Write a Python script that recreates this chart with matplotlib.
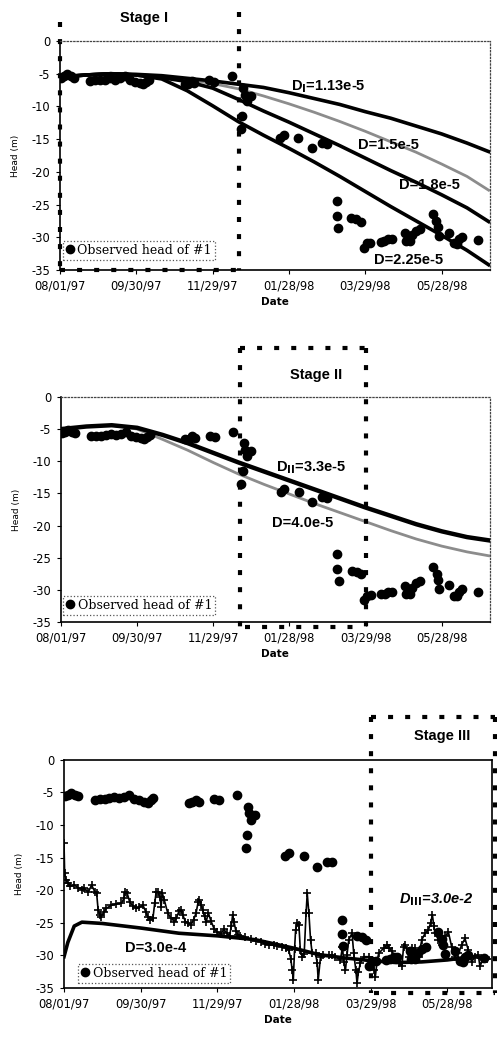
import numpy as np
import matplotlib
matplotlib.use("Agg")
import matplotlib.pyplot as plt
from matplotlib.lines import Line2D

# ---------------- data ----------------
# days counted from 08/01/97
TICK_DAYS = [0, 60, 120, 180, 240, 300]
TICK_LABELS = ["08/01/97", "09/30/97", "11/29/97", "01/28/98", "03/29/98", "05/28/98"]
Y_TICKS = [0, -5, -10, -15, -20, -25, -30, -35]

# observed head of well #1
obs_day = [0.5, 3.1, 5.7, 8.3, 10.9, 23.9, 27.8, 31.7, 35.6, 39.5, 43.4, 47.3, 51.2, 55.1,
           59.0, 62.8, 65.4, 68.0, 69.9, 97.9, 100.5, 103.6, 105.7, 117.4, 121.3, 135.6,
           142.1, 143.4, 144.1, 145.2, 146.7, 149.8, 173.2, 175.8, 187.5, 197.9, 205.7,
           209.6, 217.4, 217.4, 218.7, 229.1, 233.0, 236.8, 239.0, 241.0, 244.0, 252.0,
           255.0, 258.0, 261.0, 271.0, 272.0, 275.0, 277.0, 280.0, 283.0, 293.0, 296.0,
           297.0, 298.0, 306.0, 310.0, 312.0, 314.0, 316.0, 329.0]
obs_head = [-5.6, -5.4, -5.1, -5.4, -5.6, -6.1, -6.0, -6.0, -5.9, -5.7, -5.9, -5.7, -5.4, -6.0,
            -6.2, -6.4, -6.6, -6.2, -5.9, -6.6, -6.5, -6.1, -6.4, -6.0, -6.2, -5.4,
            -13.5, -11.5, -7.2, -8.2, -9.2, -8.4, -14.8, -14.3, -14.8, -16.4, -15.6,
            -15.7, -24.5, -26.7, -28.6, -27.1, -27.2, -27.6, -31.6, -30.9, -30.8, -30.7,
            -30.6, -30.3, -30.3, -29.4, -30.6, -30.6, -29.7, -29.0, -28.7, -26.4, -27.5,
            -28.4, -29.8, -29.3, -30.9, -31.0, -30.3, -29.9, -30.4]

# simulated heads, stages I and II
sim_day = [0, 20, 40, 60, 80, 100, 120, 140, 160, 180, 200, 220, 240, 260, 280, 300, 320, 337]
head_d113 = [-5.5, -5.2, -5.0, -5.1, -5.3, -5.7, -6.1, -6.6, -7.1, -7.9, -8.8, -9.7, -10.8,
             -11.8, -13.0, -14.2, -15.6, -16.9]
head_d15 = [-5.5, -5.2, -5.0, -5.1, -5.4, -5.9, -6.5, -7.3, -8.4, -9.6, -10.9, -12.3, -13.8,
            -15.4, -17.0, -18.8, -20.7, -22.8]
head_d18 = [-5.5, -5.2, -5.0, -5.2, -5.6, -6.2, -7.2, -8.9, -10.7, -12.4, -14.2, -16.0, -17.9,
            -19.8, -21.6, -23.5, -25.5, -27.6]
head_d225 = [-5.5, -5.2, -5.0, -5.2, -5.8, -7.6, -9.9, -12.3, -14.4, -16.4, -18.5, -20.7,
             -23.0, -25.3, -27.5, -29.7, -32.0, -34.2]
head_d33 = [-5.0, -4.6, -4.4, -4.8, -5.9, -7.2, -8.7, -10.2, -11.6, -13.0, -14.4, -15.8,
            -17.2, -18.5, -19.8, -20.9, -21.8, -22.3]
head_d40 = [-5.0, -4.6, -4.4, -5.0, -6.6, -8.3, -10.2, -12.0, -13.6, -15.1, -16.6, -18.0,
            -19.4, -20.8, -22.1, -23.2, -24.1, -24.7]

# stage III
smooth_day = [0, 3, 8, 14, 30, 60, 90, 120, 150, 180, 200, 220, 240, 260, 280, 300, 320, 332]
head_d3e4 = [-30.2, -28.0, -25.5, -24.9, -25.1, -25.8, -26.6, -27.0, -27.6, -28.9, -29.9,
             -30.4, -30.8, -31.1, -31.0, -30.7, -30.2, -30.4]
cross_day = [0.0, 0.5, 1.5, 3, 5, 8, 11, 14, 16, 19, 21.6, 24, 25.5, 26.7, 28, 29, 31, 33, 37,
             41, 45, 47, 48, 49.5, 51.4, 54, 56.6, 59, 61.8, 64, 65.7, 67.5, 69.6, 71, 72.2,
             73.5, 75, 76, 77, 78.5, 81.2, 83.5, 86.4, 88, 90, 91.6, 93, 95, 97, 99.5, 101.5,
             103.4, 105, 106, 107.5, 108.5, 110, 111.2, 113, 115, 117.7, 120, 123, 125, 127.5,
             129.6, 131, 132, 133, 134.5, 136, 138, 142, 146, 150, 154, 157.6, 160.6, 164,
             167, 171, 174, 176, 177.5, 178.7, 179.5, 180.5, 181.3, 182.5, 183.9, 185, 186.5,
             188, 189.5, 190.4, 191.7, 193, 194.3, 196.9, 198.2, 199, 200.8, 203, 207.3, 210,
             212.5, 216.4, 218, 219, 220.3, 221.5, 222.9, 225.5, 226.8, 228.5, 229.4, 230.5,
             232, 234.6, 238.5, 241.1, 243, 243.7, 245, 246.3, 250.2, 252.8, 254.5, 256.7,
             260.6, 262.5, 264.5, 265.8, 267.2, 269.8, 272.4, 275, 277.6, 280.1, 282.7, 285.3,
             287, 288.4, 289.5, 290.5, 293.1, 295.7, 298.3, 300.9, 303.5, 306.1, 308.7, 311.3,
             313.9, 316.5, 319.1, 321.7, 324.3, 325.6, 328.2, 330.8]
head_d3e2 = [-12.8, -17.4, -18.4, -18.9, -19.4, -19.2, -19.6, -19.9, -19.7, -20.3, -19.2,
             -20.2, -20.4, -23.0, -23.8, -24.1, -23.4, -22.8, -22.3, -22.1, -22.0, -21.2,
             -20.3, -20.5, -21.8, -22.4, -22.8, -22.6, -22.3, -23.3, -24.1, -24.6, -24.3,
             -22.0, -20.2, -20.3, -21.0, -22.5, -20.5, -21.5, -23.5, -24.2, -24.8, -24.3,
             -23.2, -23.0, -23.8, -24.8, -25.0, -25.3, -24.5, -23.5, -21.8, -21.5, -22.3,
             -23.0, -24.0, -24.9, -23.5, -24.7, -26.0, -26.4, -26.7, -26.0, -26.6, -27.0,
             -25.5, -23.8, -24.8, -26.2, -26.8, -27.0, -27.2, -27.5, -27.8, -27.9, -28.3,
             -28.4, -28.4, -28.5, -28.7, -28.9, -29.2, -30.5, -32.3, -33.8, -29.0, -26.1,
             -25.0, -25.3, -29.2, -30.2, -29.8, -23.5, -20.5, -23.5, -27.6, -29.7, -29.7,
             -31.2, -33.8, -30.2, -29.9, -29.9, -30.0, -30.2, -30.7, -28.7, -31.0, -32.3,
             -30.0, -27.6, -26.6, -29.7, -32.3, -34.3, -32.5, -31.2, -30.2, -30.2, -30.7,
             -32.3, -33.3, -31.0, -29.7, -28.9, -28.4, -28.8, -29.4, -30.5, -31.2, -31.7,
             -28.7, -28.4, -30.2, -28.9, -28.9, -30.2, -27.6, -26.6, -26.1, -25.0, -23.8,
             -25.5, -26.6, -27.6, -28.4, -27.1, -26.4, -28.7, -30.2, -29.7, -28.4, -27.4,
             -29.2, -31.0, -30.2, -29.9, -31.7, -30.5, -30.5]

STAGE_BOUNDS = [0, 141, 240]

# ---------------- figure ----------------
plt.rcParams["font.family"] = ["DejaVu Sans"]
fig = plt.figure(figsize=(4.97, 10.38), dpi=100)

ax1 = fig.add_axes([0.1207, 0.7399, 0.865, 0.2206])
ax2 = fig.add_axes([0.1227, 0.4008, 0.863, 0.2168])
ax3 = fig.add_axes([0.1288, 0.0482, 0.861, 0.2197])

LBL = dict(fontsize=10.5, fontweight="bold", family="Liberation Sans")
BOX = dict(color="black", lw=3, linestyle=(0, (1.2, 2.9)), clip_on=False)


def style_axes(ax, xmax, dotted_frame=True):
    ax.set_xlim(0, xmax)
    ax.set_ylim(-35, 0)
    ax.set_xticks(TICK_DAYS)
    ax.set_xticklabels(TICK_LABELS)
    ax.set_yticks(Y_TICKS)
    ax.set_yticklabels([str(v) for v in Y_TICKS])
    ax.tick_params(labelsize=8.3, length=3, width=0.8, direction="out", pad=4)
    ax.set_xlabel("Date", fontsize=7.5, fontweight="bold", labelpad=3)
    ax.set_ylabel("Head (m)", fontsize=6.5, labelpad=8)
    for s in ("left", "bottom"):
        ax.spines[s].set_linewidth(1.2)
    for s in ("top", "right"):
        if dotted_frame:
            ax.spines[s].set_linestyle(":")
            ax.spines[s].set_linewidth(0.9)
            ax.spines[s].set_color("#444444")
        else:
            ax.spines[s].set_linewidth(1.2)


def add_obs(ax, anchor):
    h, = ax.plot(obs_day, obs_head, "o", color="black", ms=6, zorder=5,
                 label="Observed head of #1")
    leg = ax.legend(handles=[h], loc="lower left", bbox_to_anchor=anchor,
                    frameon=True, fancybox=False, edgecolor="#555555", framealpha=1,
                    borderpad=0.25, handlelength=0.6, handletextpad=0.3,
                    borderaxespad=0, prop=dict(family="DejaVu Serif", size=9))
    leg.get_frame().set_linestyle(":")
    leg.get_frame().set_linewidth(0.9)


# ---- Stage I ----
ax1.plot(sim_day, head_d113, color="black", lw=2.6, zorder=3)
ax1.plot(sim_day, head_d15, color="#8c8c8c", lw=2.0, zorder=2)
ax1.plot(sim_day, head_d18, color="black", lw=2.6, zorder=3)
ax1.plot(sim_day, head_d225, color="black", lw=2.6, zorder=3)
add_obs(ax1, (0.007, 0.044))
style_axes(ax1, 338)
ax1.text(181.5, -7.0, r"D$_\mathbf{I}$=1.13e-5", va="center", ha="left", **LBL)
ax1.text(234.4, -15.9, "D=1.5e-5", va="center", ha="left", **LBL)
ax1.text(266.8, -22.0, "D=1.8e-5", va="center", ha="left", **LBL)
ax1.text(247.0, -33.5, "D=2.25e-5", va="center", ha="left", **LBL)
t1 = ax1.get_xaxis_transform()
ax1.text(66, 1.10, "Stage I", transform=t1, ha="center", va="center", **LBL)
ax1.add_line(Line2D([STAGE_BOUNDS[0]] * 2, [1.083, 0], transform=t1, **BOX))
ax1.add_line(Line2D([STAGE_BOUNDS[1]] * 2, [1.127, 0], transform=t1, **BOX))
ax1.add_line(Line2D([STAGE_BOUNDS[0], STAGE_BOUNDS[1]], [0, 0], transform=t1, **BOX))

# ---- Stage II ----
ax2.plot(sim_day, head_d33, color="black", lw=3.2, zorder=3)
ax2.plot(sim_day, head_d40, color="#8c8c8c", lw=2.0, zorder=2)
add_obs(ax2, (0.005, 0.031))
style_axes(ax2, 338)
ax2.text(169.8, -11.0, r"D$_\mathbf{II}$=3.3e-5", va="center", ha="left", **LBL)
ax2.text(165.9, -19.6, "D=4.0e-5", va="center", ha="left", **LBL)
t2 = ax2.get_xaxis_transform()
ax2.text(201, 1.098, "Stage II", transform=t2, ha="center", va="center", **LBL)
ax2.add_line(Line2D([STAGE_BOUNDS[1]] * 2, [1.218, -0.022], transform=t2, **BOX))
ax2.add_line(Line2D([STAGE_BOUNDS[2]] * 2, [1.218, -0.022], transform=t2, **BOX))
ax2.add_line(Line2D([STAGE_BOUNDS[1], STAGE_BOUNDS[2]], [1.218, 1.218], transform=t2, **BOX))
ax2.add_line(Line2D([STAGE_BOUNDS[1] + 4, STAGE_BOUNDS[2] - 4], [-0.022, -0.022],
                    transform=t2, **BOX))

# ---- Stage III ----
ax3.plot(cross_day, head_d3e2, color="black", lw=1.2, marker="+", ms=6, mew=1.2, zorder=3)
ax3.plot(smooth_day, head_d3e4, color="black", lw=2.6, zorder=4)
add_obs(ax3, (0.033, 0.022))
style_axes(ax3, 335, dotted_frame=False)
ax3.text(47.6, -28.9, "D=3.0e-4", va="center", ha="left", **LBL)
ax3.text(262.3, -21.5, r"D$_\mathbf{III}$=3.0e-2", va="center", ha="left",
         style="italic", **LBL)
t3 = ax3.get_xaxis_transform()
ax3.text(296, 1.105, "Stage III", transform=t3, ha="center", va="center", **LBL)
ax3.add_line(Line2D([STAGE_BOUNDS[2]] * 2, [1.189, -0.022], transform=t3, **BOX))
ax3.add_line(Line2D([337.5] * 2, [1.189, -0.022], transform=t3, **BOX))
ax3.add_line(Line2D([STAGE_BOUNDS[2], 337.5], [1.189, 1.189], transform=t3, **BOX))
ax3.add_line(Line2D([STAGE_BOUNDS[2] + 3, 337.5], [-0.022, -0.022], transform=t3, **BOX))

fig.savefig("out.png", dpi=100)
